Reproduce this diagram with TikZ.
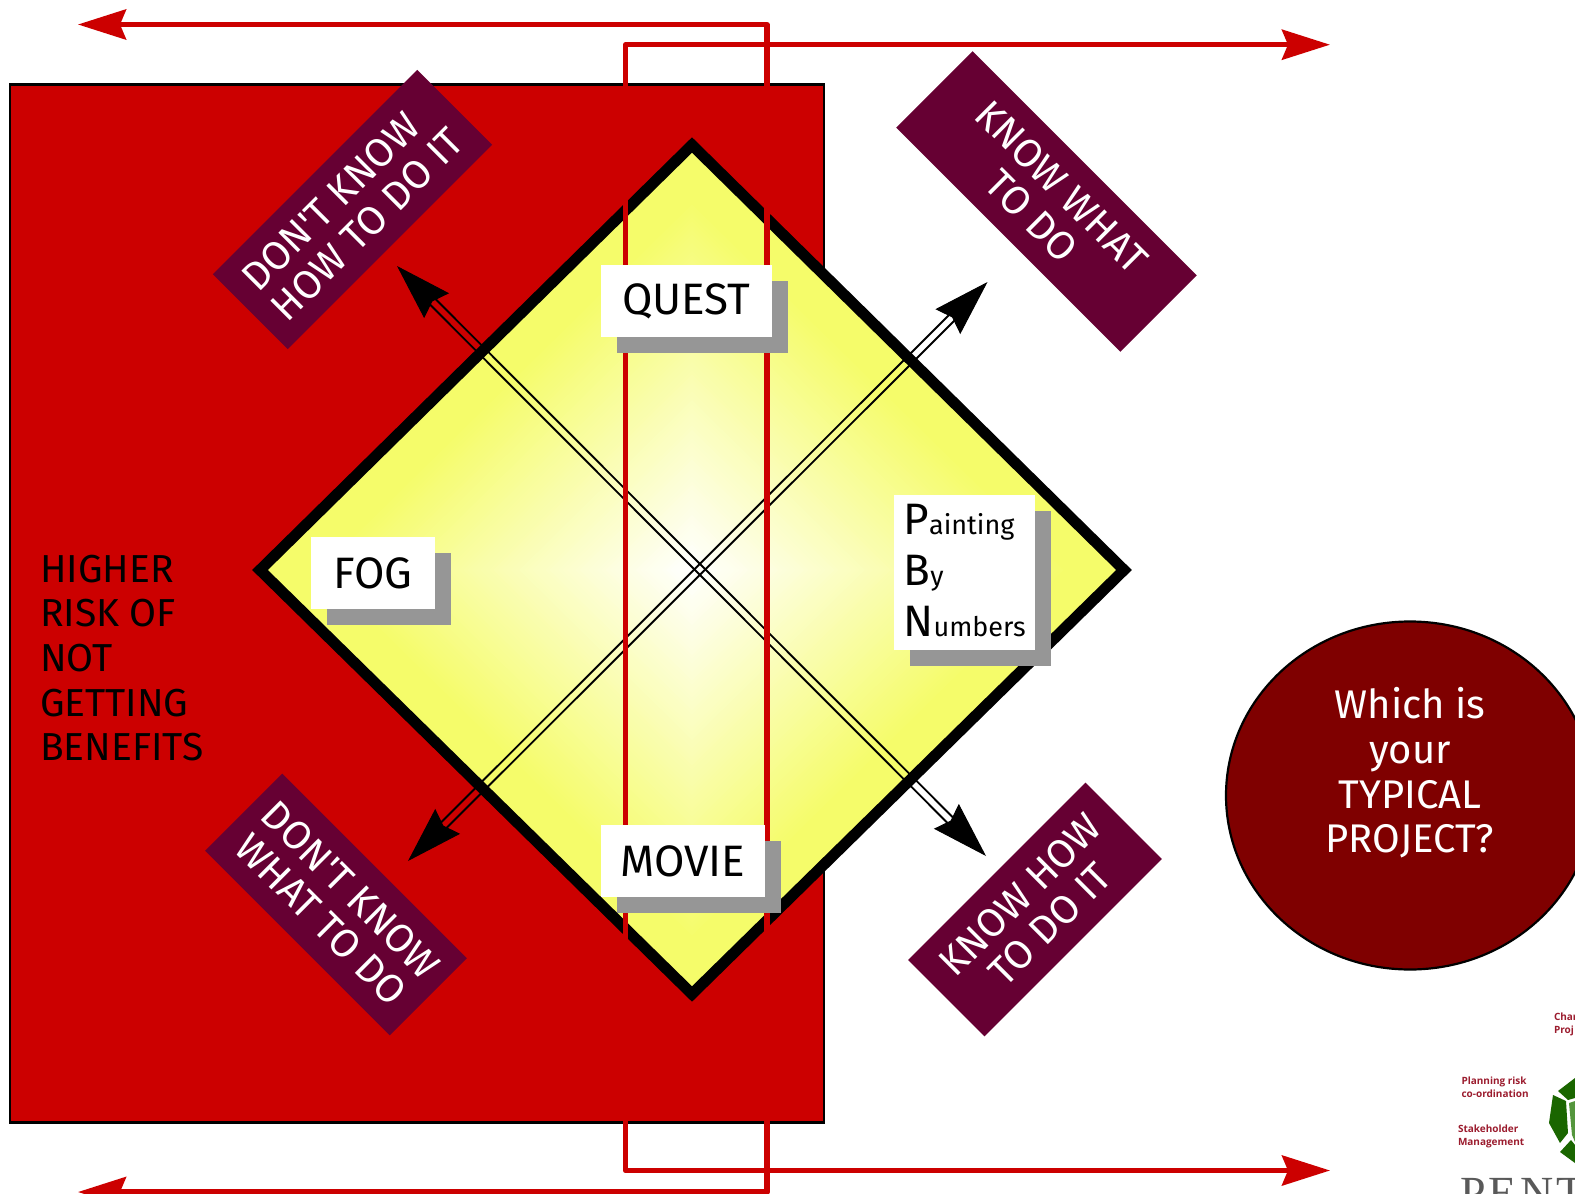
\documentclass[tikz,border=0pt]{standalone}
\usepackage{fontspec}
\setmainfont{Fira Sans}
\newfontfamily\logofont[LetterSpace=7]{Liberation Serif}
\newfontfamily\smallfont{Open Sans}
\usepackage{xcolor}
\definecolor{rojos}{RGB}{204,0,0}
\definecolor{ciruela}{RGB}{102,0,51}
\definecolor{granate}{RGB}{127,0,0}
\definecolor{glow}{RGB}{245,252,106}
\definecolor{sombra}{RGB}{150,150,150}
\definecolor{verdes}{RGB}{26,102,0}
\definecolor{verdeclaro}{RGB}{84,150,60}
\definecolor{letrero}{RGB}{155,28,46}
\usepackage{tikz}
\usetikzlibrary{arrows.meta, calc, shadows, shapes.geometric}
\tikzset{
  redline/.style={rojos, line width=2.65pt, line join=round, {Stealth[length=24pt,width=15pt,inset=3pt]}-{Stealth[length=24pt,width=15pt,inset=3pt]}},
  railline/.style={black, line width=.95pt, shorten <=25pt, shorten >=25pt},
  railtip/.style={black, line width=.5pt, -{Stealth[length=28pt,width=17.5pt,inset=3pt]}},
  bannerbox/.style={fill=ciruela, text=white, inner sep=0pt, outer sep=0pt, font=\fontsize{20}{21}\selectfont},
  labelbox/.style={fill=white, inner sep=0pt, outer sep=0pt, font=\fontsize{22}{24}\selectfont, drop shadow={shadow xshift=8pt, shadow yshift=-8pt, fill=sombra, opacity=1}},
  sidetext/.style={inner sep=0pt, outer sep=0pt, align=left, font=\fontsize{19.5}{22.35}\selectfont},
  smalltext/.style={inner sep=0pt, outer sep=0pt, align=left, text=letrero, font=\smallfont\bfseries\fontsize{5}{6.5}\selectfont}
}
\begin{document}
\begin{tikzpicture}[x=0.5pt, y=-0.5pt]
  \useasboundingbox (0,0) rectangle (1575,1194);
  \clip (0,0) rectangle (1575,1194);

  % Bloque rojo
  \draw[black, fill=rojos, line width=1.1pt] (10,84.5) rectangle (824,1122.5);

  % Rombo
  \foreach \s in {100,99,...,1} {
    \pgfmathtruncatemacro\mix{min(100,\s*1.15)}
    \fill[glow!\mix!white] ({692-4.32*\s},570) -- (692,{570-4.25*\s}) -- ({692+4.32*\s},570) -- (692,{570+4.25*\s}) -- cycle;
  }
  \draw[black, line width=5.5pt, miter limit=10] (692,145) -- (1124,570) -- (692,994) -- (260,570) -- cycle;

  % Flechas dobles
  \coordinate (nwtip) at (397,266);
  \coordinate (setip) at (986,856);
  \coordinate (netip) at (987.5,282);
  \coordinate (swtip) at (408,861);
  \foreach \dx/\dy in {2.75/-2.75, -2.75/2.75}
    \draw[railline] ($(nwtip)+(\dx,\dy)$) -- ($(setip)+(\dx,\dy)$);
  \foreach \dx/\dy in {2.75/2.75, -2.75/-2.75}
    \draw[railline] ($(netip)+(\dx,\dy)$) -- ($(swtip)+(\dx,\dy)$);
  \foreach \a/\b in {nwtip/setip, setip/nwtip, netip/swtip, swtip/netip}
    \draw[railtip] ($(\a)!24pt!(\b)$) -- (\a);

  % Lineas rojas
  \coordinate (toptip) at (78,24.5);
  \coordinate (topright) at (767,24.5);
  \coordinate (lowright) at (767,1192);
  \coordinate (lowtip) at (78,1192);
  \coordinate (uptip) at (1330,44.7);
  \coordinate (upleft) at (625.5,44.7);
  \coordinate (downleft) at (625.5,1170.5);
  \coordinate (downtip) at (1330,1170.5);
  \draw[redline] (toptip) -- (topright) -- (lowright) -- (lowtip);
  \draw[redline] (uptip) -- (upleft) -- (downleft) -- (downtip);

  % Etiquetas
  \node[labelbox, minimum width=85.5pt, minimum height=36pt] (quest) at (686.5,301) {QUEST};
  \node[labelbox, minimum width=82pt, minimum height=36pt] (movie) at (683,861) {MOVIE};
  \node[labelbox, minimum width=62pt, minimum height=36pt] (fog) at (373,573) {FOG};
  \node[labelbox, minimum width=70.5pt, minimum height=77.5pt, align=left, text width=61pt, inner xsep=4.75pt, font=\fontsize{13.5}{25.5}\selectfont] (numbers) at (964.5,572.5)
    {{\fontsize{22}{25.5}\selectfont P}ainting\\{\fontsize{22}{25.5}\selectfont B}y\\{\fontsize{22}{25.5}\selectfont N}umbers\rule[-2.2pt]{0pt}{1pt}};

  % Cintas
  \node[bannerbox, rotate=45, minimum width=144.5pt, minimum height=53pt, align=left] (howto) at (352.5,209.5) {DON\textquotesingle T KNOW\\HOW TO DO IT};
  \node[bannerbox, rotate=-45, minimum width=158.5pt, minimum height=54pt, align=center] (knowwhat) at (1046.5,201.5) {KNOW WHAT\\TO DO};
  \node[bannerbox, rotate=45, minimum width=125.5pt, minimum height=54pt, align=center] (knowhow) at (1035,909.5) {KNOW HOW\\TO DO IT};
  \node[bannerbox, rotate=-45, minimum width=130.5pt, minimum height=54.5pt, align=center] (whatto) at (336,904.5) {DON\textquotesingle T KNOW\\WHAT TO DO};

  % Textos
  \node[sidetext, anchor=west] (risk) at (40,658) {HIGHER\\RISK OF\\NOT\\GETTING\\BENEFITS};
  \node[draw=black, line width=1.1pt, fill=granate, shape=ellipse, minimum width=184pt, minimum height=174pt, inner sep=0pt] (typical) at (1410,795.5) {};
  \node[sidetext, text=white, align=center, font=\fontsize{20}{22.35}\selectfont] (question) at (1410,773) {Which is\\your\\TYPICAL\\PROJECT?};

  % Logo
  \fill[verdes] (1558,1091) -- (1575,1078) -- (1575,1098) -- (1568,1100) -- cycle;
  \fill[verdes] (1553,1095) -- (1566,1101) -- (1568,1133) -- (1560,1143) -- (1549,1123) -- cycle;
  \fill[verdes] (1560,1152) -- (1571,1140) -- (1575,1145) -- (1575,1163) -- cycle;
  \fill[verdeclaro] (1569,1103) -- (1575,1101) -- (1575,1142) -- (1572,1135) -- cycle;
  \node[smalltext, anchor=base west] (charter) at (1554,1020) {Char};
  \node[smalltext, anchor=base west] (project) at (1554,1033) {Proj};
  \node[smalltext, anchor=west] (planning) at (1461.5,1087) {Planning risk\\co-ordination};
  \node[smalltext, anchor=west] (stake) at (1458,1136) {Stakeholder\\Management};
  \node[inner sep=0pt, outer sep=0pt, anchor=base west, text=black!65, font=\logofont\fontsize{23}{23}\selectfont] (pent) at (1460,1208) {PENT};
\end{tikzpicture}
\end{document}
